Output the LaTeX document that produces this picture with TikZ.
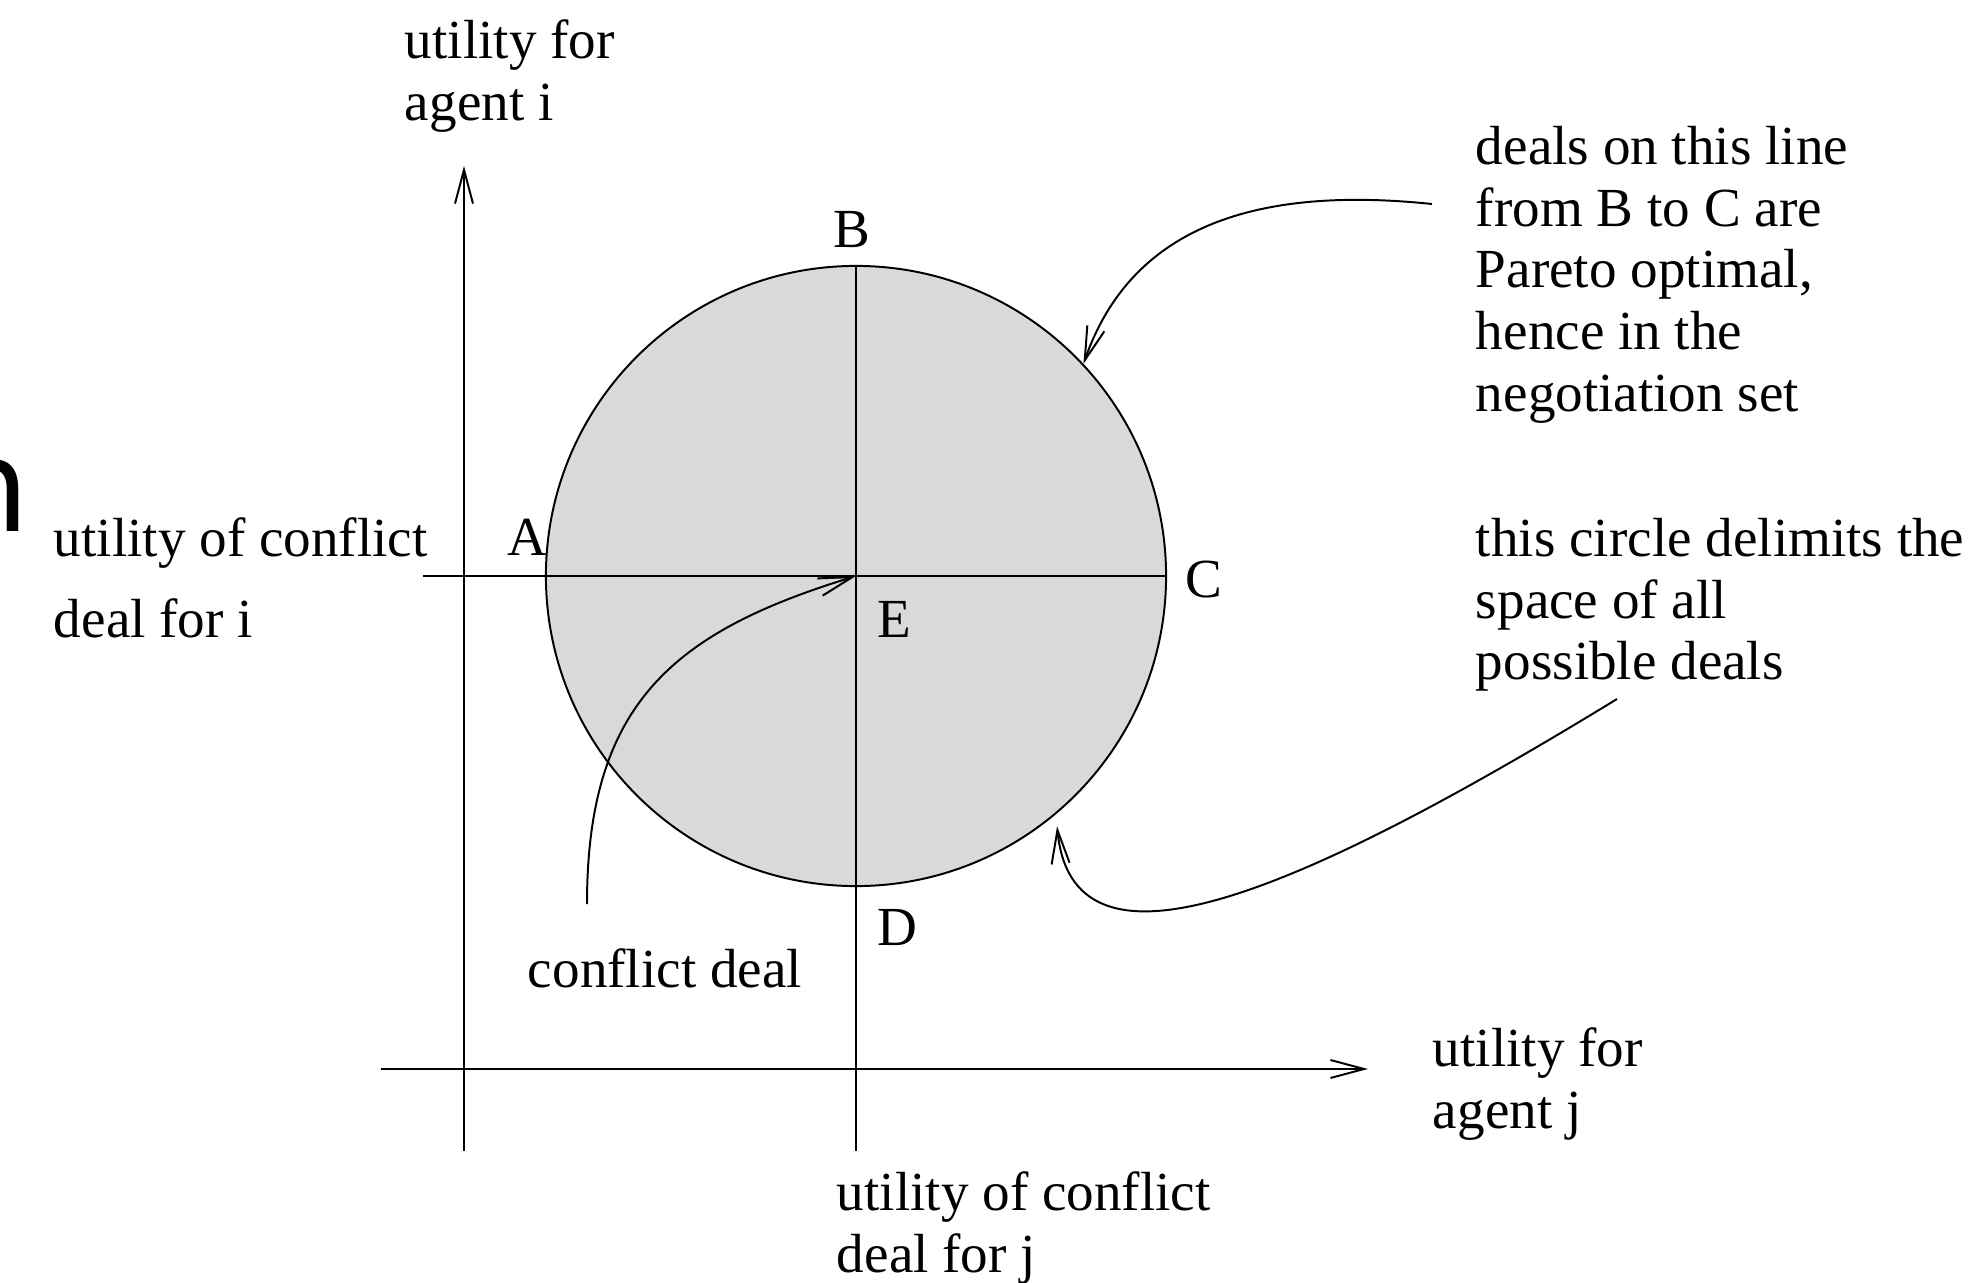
\documentclass[tikz,border=0pt]{standalone}
\usepackage{fontspec}
\setmainfont{Liberation Serif}
\newfontfamily\cutfont{DejaVu Sans}
\usetikzlibrary{arrows.meta}
\tikzset{every node/.style={inner sep=0pt, font=\fontsize{19.6}{22}\selectfont},
    txt/.style={anchor=north west, align=left},
    pt/.style={anchor=base west},
    arr/.style={-{Straight Barb[length=12pt,width=6.4pt]}},
    }

\begin{document}
\begin{tikzpicture}[line width=0.7pt, x=0.0125cm, y=-0.0125cm]
\useasboundingbox (0,0) rectangle (1977,1283);

% space of all deals
\node[circle, draw, fill=black!15, minimum size=7.75cm] (space) at (856,576) {};
\coordinate (ileft) at (423,576);
\coordinate (jlow) at (856,1151);
\draw (ileft) -- (space.east);
\draw (space.north) -- (jlow);

% axes
\coordinate (ilow) at (464,1151);
\coordinate (itop) at (464,166);
\coordinate (jleft) at (381,1069);
\coordinate (jright) at (1368,1069);
\draw[arr] (ilow) -- (itop);
\draw[arr] (jleft) -- (jright);

% points
\node[anchor=base] (b) at (852,247) {B};
\node[pt] (a) at (507,555) {A};
\node[pt] (c) at (1185,597) {C};
\node[pt] (e) at (877,637) {E};
\node[pt] (d) at (877,945) {D};

% axis labels
\node[txt] (ui) at (404,19) {utility for\\agent i};
\node[txt] (uj) at (1432,1027) {utility for\\agent j};
\node[txt, font=\fontsize{19.6}{28.7}\selectfont] (uci) at (53,517) {utility of conflict\\deal for i};
\node[txt] (ucj) at (836,1171) {utility of conflict\\deal for j};
\node[anchor=base west, font=\cutfont\fontsize{45.5}{50}\selectfont] (cut) at (-52,531) {n};

% notes
\node[txt] (pareto) at (1475,125) {deals on this line\\from B to C are\\Pareto optimal,\\hence in the\\negotiation set};
\node[txt] (delim) at (1475,517) {this circle delimits the\\space of all\\possible deals};
\node[pt] (conf) at (527,987) {conflict deal};

\coordinate (pfrom) at (1432,204);
\coordinate (dfrom) at (1617,699);
\coordinate (cfrom) at (587,904);
\draw[arr] (pfrom) .. controls (1250,185) and (1130,230) .. (space.43);
\draw[arr, shorten >=0.15cm] (dfrom) .. controls (1280,905) and (1072,985) .. (space.-50);
\draw[arr] (cfrom) .. controls (587,704) and (673,632) .. (space.center);
\end{tikzpicture}
\end{document}
